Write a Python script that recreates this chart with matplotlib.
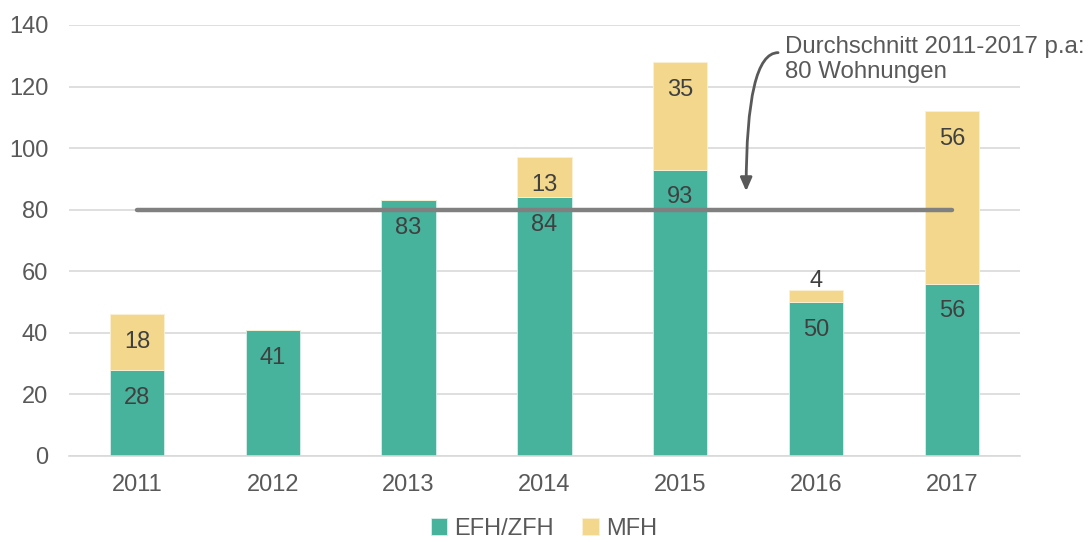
import matplotlib.pyplot as plt
import numpy as np

plt.rcParams['font.family'] = ['Liberation Sans', 'DejaVu Sans']

# data
years = ['2011', '2012', '2013', '2014', '2015', '2016', '2017']
efh_zfh = [28, 41, 83, 84, 93, 50, 56]
mfh = [18, 0, 0, 13, 35, 4, 56]
average = 80

green = '#47B39D'
yellow = '#F2D78C'
label_col = '#404040'
tick_col = '#595959'

fig = plt.figure(figsize=(10.88, 5.42), dpi=100)
ax = fig.add_axes([0.0634, 0.1587, 0.874, 0.7953])

x = np.arange(len(years))
w = 0.4
b1 = ax.bar(x, efh_zfh, width=w, color=green, edgecolor='#d8efe9', linewidth=0.6,
            label='EFH/ZFH', zorder=2)
b2 = ax.bar(x, mfh, width=w, bottom=efh_zfh, color=yellow, edgecolor='#fbf1d6',
            linewidth=0.6, label='MFH', zorder=2)

# value labels (inside end; tiny segments above)
for i in range(len(years)):
    top = efh_zfh[i]
    ax.annotate(str(efh_zfh[i]), (x[i], top), xytext=(0, -20), textcoords='offset points',
                ha='center', va='center', fontsize=17, color=label_col, zorder=4)
    if mfh[i] > 0:
        top2 = efh_zfh[i] + mfh[i]
        off = -20 if mfh[i] > 6 else 6
        ax.annotate(str(mfh[i]), (x[i], top2), xytext=(0, off), textcoords='offset points',
                    ha='center', va='center', fontsize=17, color=label_col, zorder=4)

# average line
ax.plot([x[0], x[-1]], [average, average], color='#808080', lw=3.2,
        solid_capstyle='round', zorder=3)

# annotation with curved arrow
ax.text(4.77, 136.5, 'Durchschnitt 2011-2017 p.a:\n80 Wohnungen', ha='left', va='top',
        fontsize=17.3, color=tick_col, linespacing=1.22)
ax.annotate('', xy=(4.485, 86), xytext=(4.72, 131),
            arrowprops=dict(arrowstyle='-|>,head_length=0.8,head_width=0.35', color='#595959',
                            lw=2, connectionstyle='angle3,angleA=180,angleB=90',
                            shrinkA=0, shrinkB=0))

ax.set_xlim(-0.5, 6.5)
ax.set_ylim(0, 140)
ax.set_yticks(range(0, 141, 20))
ax.set_xticks(x)
ax.set_xticklabels(years)
ax.yaxis.grid(True, color='#d9d9d9', lw=1.2, zorder=0)
ax.set_axisbelow(True)
for s in ['top', 'right', 'left']:
    ax.spines[s].set_visible(False)
ax.spines['bottom'].set_color('#d9d9d9')
ax.spines['bottom'].set_linewidth(1.2)
ax.tick_params(axis='both', length=0, labelsize=17, colors=tick_col)
ax.tick_params(axis='x', pad=13)
ax.tick_params(axis='y', pad=15)

leg = fig.legend(handles=[b1, b2], loc='center', bbox_to_anchor=(0.5, 0.024), ncol=2,
                 frameon=False, fontsize=17, handlelength=0.7, handleheight=0.7,
                 handletextpad=0.3, columnspacing=1.2, borderpad=0.2)
for t in leg.get_texts():
    t.set_color(tick_col)

fig.savefig('out.png', dpi=100)
